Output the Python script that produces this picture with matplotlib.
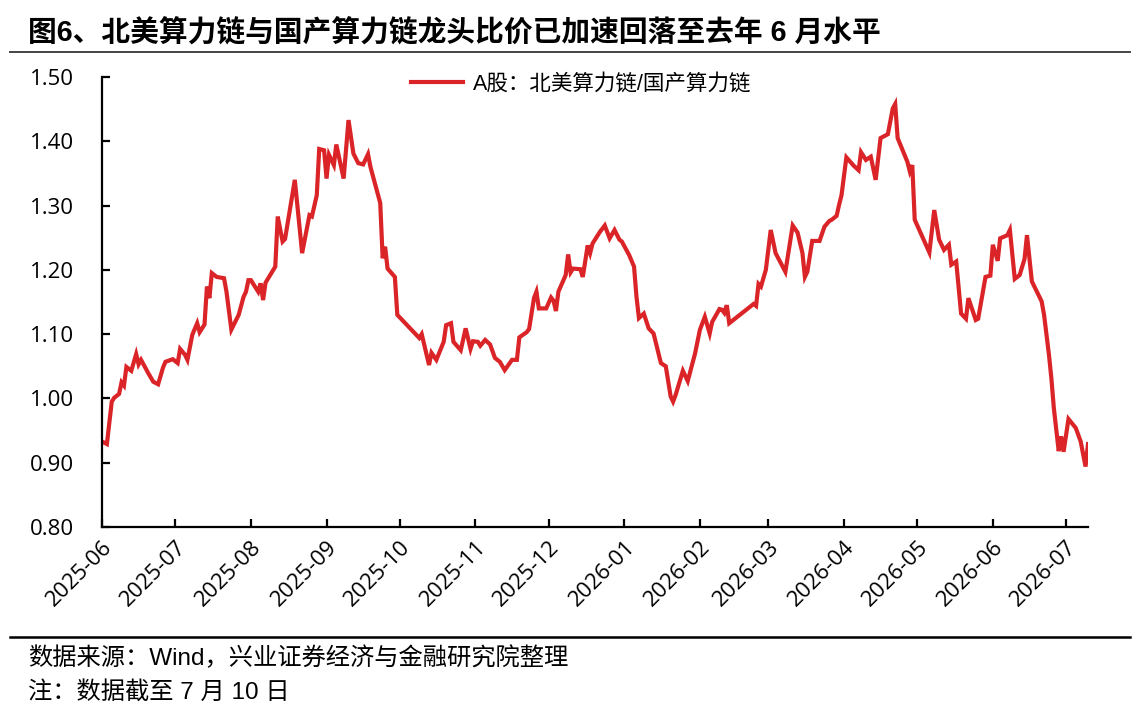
import matplotlib
matplotlib.use("Agg")
import matplotlib.pyplot as plt
import matplotlib.dates as mdates
from matplotlib.lines import Line2D
import pandas as pd

plt.rcParams["font.family"] = ["Liberation Sans", "Noto Sans CJK SC", "DejaVu Sans"]

title = "图6、北美算力链与国产算力链龙头比价已加速回落至去年 6 月水平"
series_name = "A股：北美算力链/国产算力链"
source_note = "数据来源：Wind，兴业证券经济与金融研究院整理"
date_note = "注：数据截至 7 月 10 日"

dates_2025 = [
    "06-01", "06-03", "06-05", "06-06", "06-08", "06-09", "06-10", "06-11", "06-13", "06-15",
    "06-16", "06-17", "06-20", "06-22", "06-24", "06-26", "06-27", "06-30", "07-02", "07-03",
    "07-05", "07-06", "07-08", "07-10", "07-11", "07-13", "07-14", "07-15", "07-16", "07-18",
    "07-21", "07-22", "07-24", "07-27", "07-29", "07-30", "07-31", "08-01", "08-04", "08-05",
    "08-06", "08-07", "08-11", "08-12", "08-14", "08-15", "08-19", "08-22", "08-25", "08-26",
    "08-28", "08-29", "08-31", "09-01", "09-02", "09-04", "09-05", "09-08", "09-10", "09-12",
    "09-14", "09-16", "09-18", "09-19", "09-21", "09-23", "09-24", "09-25", "09-26", "09-29",
    "09-30", "10-09", "10-10", "10-13", "10-14", "10-16", "10-19", "10-20", "10-22", "10-23",
    "10-26", "10-28", "10-30", "10-31", "11-02", "11-03", "11-05", "11-07", "11-09", "11-11",
    "11-13", "11-16", "11-18", "11-19", "11-22", "11-23", "11-25", "11-26", "11-27", "11-30",
    "12-02", "12-03", "12-04", "12-05", "12-08", "12-09", "12-10", "12-11", "12-14", "12-15",
    "12-17", "12-18", "12-19", "12-22", "12-24", "12-26", "12-28", "12-30", "12-31",
]
values_2025 = [
    0.933, 0.929, 0.995, 1.001, 1.007, 1.025, 1.020, 1.049, 1.043, 1.069,
    1.053, 1.060, 1.039, 1.026, 1.022, 1.048, 1.057, 1.061, 1.055, 1.077,
    1.068, 1.060, 1.099, 1.117, 1.103, 1.115, 1.174, 1.156, 1.195, 1.189,
    1.187, 1.166, 1.107, 1.130, 1.158, 1.166, 1.184, 1.184, 1.166, 1.179,
    1.153, 1.180, 1.205, 1.283, 1.244, 1.248, 1.340, 1.226, 1.285, 1.283,
    1.316, 1.388, 1.386, 1.342, 1.379, 1.363, 1.395, 1.342, 1.433, 1.381,
    1.366, 1.364, 1.380, 1.360, 1.332, 1.304, 1.218, 1.236, 1.202, 1.189,
    1.130, 1.094, 1.100, 1.052, 1.071, 1.060, 1.088, 1.114, 1.117, 1.088,
    1.075, 1.109, 1.077, 1.089, 1.088, 1.082, 1.091, 1.084, 1.063, 1.057,
    1.044, 1.060, 1.060, 1.095, 1.103, 1.108, 1.156, 1.166, 1.140, 1.140,
    1.157, 1.152, 1.136, 1.166, 1.192, 1.224, 1.196, 1.202, 1.201, 1.189,
    1.238, 1.226, 1.241, 1.259, 1.269, 1.249, 1.262, 1.247, 1.244,
]

dates_2026 = [
    "01-03", "01-05", "01-06", "01-07", "01-09", "01-11", "01-13", "01-16", "01-18", "01-20",
    "01-21", "01-22", "01-25", "01-27", "01-30", "02-01", "02-03", "02-05", "02-06", "02-09",
    "02-10", "02-11", "02-12", "02-13", "02-23", "02-24", "02-25", "02-26", "02-28", "03-02",
    "03-04", "03-08", "03-11", "03-13", "03-15", "03-16", "03-17", "03-19", "03-22", "03-24",
    "03-26", "03-27", "03-29", "03-30", "03-31", "04-02", "04-05", "04-07", "04-08", "04-10",
    "04-12", "04-14", "04-16", "04-19", "04-21", "04-22", "04-23", "04-27", "04-28", "04-29",
    "04-30", "05-06", "05-08", "05-10", "05-12", "05-14", "05-15", "05-17", "05-19", "05-21",
    "05-22", "05-25", "05-26", "05-29", "05-31", "06-01", "06-03", "06-04", "06-07", "06-08",
    "06-10", "06-12", "06-14", "06-15", "06-17", "06-21", "06-22", "06-24", "06-25", "06-26",
    "06-28", "06-29", "06-30", "07-02", "07-05", "07-07", "07-09", "07-10",
]
values_2026 = [
    1.223, 1.205, 1.158, 1.125, 1.132, 1.109, 1.101, 1.055, 1.050, 1.003,
    0.995, 1.005, 1.043, 1.027, 1.070, 1.107, 1.127, 1.101, 1.119, 1.139,
    1.138, 1.133, 1.145, 1.117, 1.147, 1.144, 1.178, 1.174, 1.200, 1.262,
    1.226, 1.197, 1.269, 1.258, 1.226, 1.189, 1.197, 1.245, 1.245, 1.267,
    1.276, 1.278, 1.284, 1.301, 1.316, 1.375, 1.362, 1.355, 1.383, 1.371,
    1.376, 1.340, 1.405, 1.411, 1.451, 1.458, 1.405, 1.368, 1.353, 1.363,
    1.278, 1.227, 1.293, 1.247, 1.231, 1.239, 1.208, 1.213, 1.132, 1.124,
    1.156, 1.122, 1.124, 1.189, 1.191, 1.239, 1.214, 1.249, 1.254, 1.262,
    1.186, 1.192, 1.217, 1.254, 1.182, 1.151, 1.130, 1.068, 1.031, 0.985,
    0.918, 0.941, 0.917, 0.968, 0.954, 0.933, 0.894, 0.929,
]

y_ticks = [0.80, 0.90, 1.00, 1.10, 1.20, 1.30, 1.40, 1.50]
x_start, x_end = "2025-06-01", "2026-07-10"

dates = pd.to_datetime(["2025-" + d for d in dates_2025] + ["2026-" + d for d in dates_2026])
values = values_2025 + values_2026

W, H = 1144, 714
fig = plt.figure(figsize=(W / 100, H / 100), dpi=100)
ax = fig.add_axes([102 / W, 1 - 527 / H, 986 / W, 450 / H])

ax.plot(dates, values, color="#DA2428", lw=3.0, label=series_name, solid_joinstyle="miter")

ax.set_xlim(pd.Timestamp(x_start), pd.Timestamp(x_end))
ax.set_ylim(y_ticks[0], y_ticks[-1])
ax.set_yticks(y_ticks)
ax.yaxis.set_major_formatter(plt.FormatStrFormatter("%.2f"))
ax.xaxis.set_major_locator(mdates.MonthLocator())
ax.xaxis.set_major_formatter(mdates.DateFormatter("%Y-%m"))

for s in ["top", "right"]:
    ax.spines[s].set_visible(False)
for s in ["left", "bottom"]:
    ax.spines[s].set_linewidth(1.6)
    ax.spines[s].set_color("black")

ax.tick_params(axis="both", direction="in", length=6, width=1.6, labelsize=16,
               colors="black", labelfontfamily="Open Sans")
ax.tick_params(axis="y", pad=20)
ax.tick_params(axis="x", pad=7, labelrotation=45)
for lab in ax.get_xticklabels():
    lab.set_ha("right")
    lab.set_va("top")
    lab.set_rotation_mode("anchor")

ax.legend(loc="upper center", bbox_to_anchor=(0.486, 1.05), frameon=False,
          fontsize=15.5, handlelength=2.4, handletextpad=0.45)

fig.text(28 / W, 1 - 33 / H, title, fontsize=20.7, fontweight="bold", va="center", ha="left")
fig.add_artist(Line2D([10 / W, 1130 / W], [1 - 52 / H] * 2, color="#444444", lw=1.4))
fig.add_artist(Line2D([10 / W, 1130 / W], [1 - 637 / H] * 2, color="black", lw=1.8))
fig.text(28 / W, 1 - 658 / H, source_note, fontsize=17.5, va="center", ha="left")
fig.text(28 / W, 1 - 692 / H, date_note, fontsize=17.5, va="center", ha="left")

fig.savefig("out.png", dpi=100, facecolor="white")
